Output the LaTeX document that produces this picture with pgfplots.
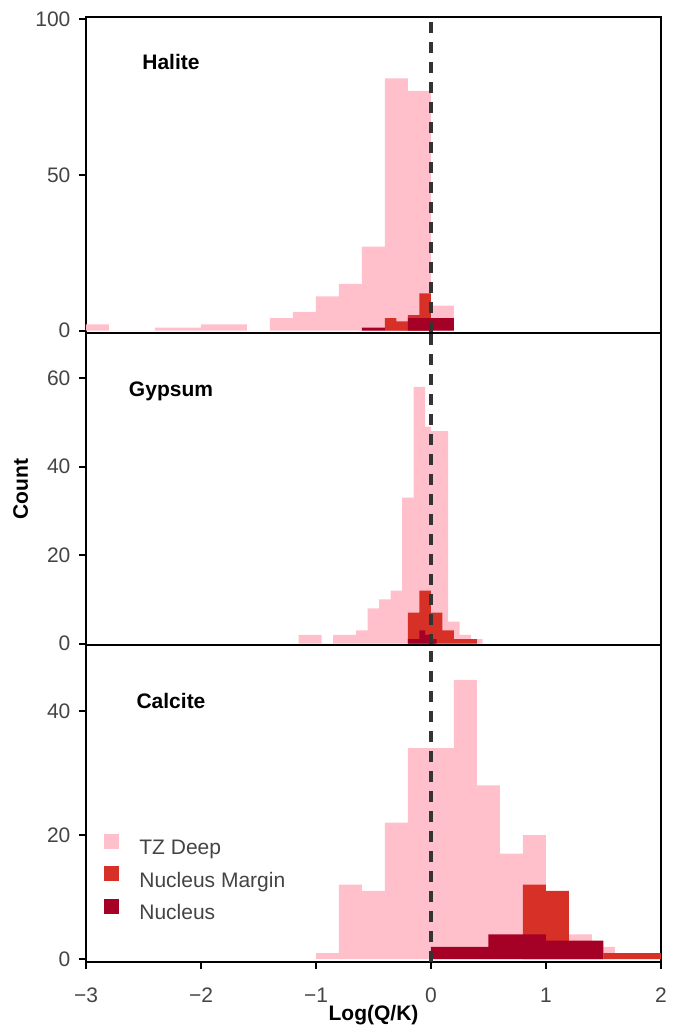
\documentclass[border=0pt]{standalone}
\usepackage{fontspec}
\setmainfont{Liberation Sans}
\usepackage{pgfplots}
\usepackage{pgfplotstable}
\pgfplotsset{compat=1.18}

\definecolor{tzdeep}{HTML}{FFC0CB}
\definecolor{margin}{HTML}{D73027}
\definecolor{nucleus}{HTML}{A50026}
\definecolor{ticktext}{HTML}{444444}
\definecolor{refline}{HTML}{333333}

% left bin edge, count (last row closes the last bin)
\pgfplotstableread{
x y
-3.0 2
-2.8 0
-2.4 1
-2.2 1
-2.0 2
-1.8 2
-1.6 0
-1.4 4
-1.2 6
-1.0 11
-0.8 15
-0.6 27
-0.4 81
-0.2 77
0.0 8
0.2 0
}\halitedeep
\pgfplotstableread{
x y
-0.4 4
-0.3 3
-0.2 5
-0.1 12
0.0 0
}\halitemargin
\pgfplotstableread{
x y
-0.6 1
-0.4 0
-0.2 4
0.2 0
}\halitenucleus

\pgfplotstableread{
x y
-1.15 2
-1.05 2
-0.95 0
-0.85 2
-0.75 2
-0.65 3
-0.55 8
-0.45 10
-0.35 12
-0.25 33
-0.15 58
-0.05 49
0.0 48
0.15 5
0.25 2
0.35 1
0.45 0
}\gypsumdeep
\pgfplotstableread{
x y
-0.2 7
-0.1 12
0.0 7
0.1 3
0.2 1
0.4 0
}\gypsummargin
\pgfplotstableread{
x y
-0.2 1
-0.1 3
-0.05 2
0.0 1
0.05 0
}\gypsumnucleus

\pgfplotstableread{
x y
-1.0 1
-0.8 12
-0.6 11
-0.4 22
-0.2 34
0.0 34
0.2 45
0.4 28
0.6 17
0.8 20
1.0 8
1.2 4
1.4 2
1.6 0
}\calcitedeep
\pgfplotstableread{
x y
0.8 12
1.0 11
1.2 0
1.5 1
2.0 0
}\calcitemargin
\pgfplotstableread{
x y
0.0 2
0.5 4
1.0 3
1.5 0
}\calcitenucleus

\pgfplotsset{
  panel/.style={
    scale only axis, width=287.5pt,
    xmin=-3, xmax=2,
    axis line style={line width=1pt},
    tick style={black, line width=1pt},
    tick align=outside,
    ytick pos=left, xtick pos=bottom,
    major tick length=3.5pt,
    ticklabel style={font=\fontsize{10.5}{12}\selectfont, text=ticktext},
    yticklabel style={inner sep=0pt, xshift=-4.1pt},
    xticklabel style={inner sep=0pt, yshift=-9.25pt},
    /pgf/number format/assume math mode=true,
    label style={font=\bfseries\fontsize{10.5}{12}\selectfont},
  },
  bin/.style={ybar interval, fill=#1, draw=none,
    legend image code/.code={\fill[#1] (0pt,-0.2pt) rectangle (7.5pt,7.3pt);}},
  zero/.style={refline, line width=1.6pt, dash pattern=on 5.5pt off 4.5pt, forget plot},
}

\begin{document}
\begin{tikzpicture}
\path[use as bounding box] (-43pt,-34.15pt) rectangle (298pt,480.85pt);

\begin{axis}[panel, name=top, at={(0,314.2pt)}, anchor=south west,
  height=158pt, ymin=-0.85, ymax=100.6, ytick={0,50,100}, xtick=\empty]
\addplot[bin=tzdeep] table {\halitedeep};
\addplot[bin=margin] table {\halitemargin};
\addplot[bin=nucleus] table {\halitenucleus};
\addplot[zero] coordinates {(0,-0.85) (0,100.6)};
\end{axis}

\begin{axis}[panel, name=mid, at={(0,158.35pt)}, anchor=south west,
  height=155.85pt, ymin=-0.3, ymax=70.1, ytick={0,20,40,60}, xtick=\empty,
  ylabel={Count},
  ylabel style={at={(axis description cs:-0.1137,0.5)}, anchor=center, rotate=0}]
\addplot[bin=tzdeep] table {\gypsumdeep};
\addplot[bin=margin] table {\gypsummargin};
\addplot[bin=nucleus] table {\gypsumnucleus};
\addplot[zero] coordinates {(0,-0.3) (0,70.1)};
\end{axis}

\begin{axis}[panel, name=bot, at={(0,0)}, anchor=south west,
  height=158.35pt, ymin=-0.4, ymax=50.6, ytick={0,20,40},
  xtick={-3,-2,-1,0,1,2}, xticklabels={−3,−2,−1,0,1,2},
  xlabel={Log(Q/K)},
  xlabel style={at={(axis description cs:0.5,0)}, anchor=center, yshift=-26.5pt},
  legend cell align=left,
  legend style={draw=none, fill=none, at={(0.0313,0.262)}, anchor=west,
    inner sep=0pt, row sep=4pt, text=ticktext,
    font=\fontsize{10.5}{12}\selectfont,
    nodes={inner sep=0pt, text height=8pt, text depth=2pt},
    /tikz/every odd column/.append style={column sep=10pt}}]
\addplot[bin=tzdeep] table {\calcitedeep};
\addlegendentry{TZ Deep}
\addplot[bin=margin] table {\calcitemargin};
\addlegendentry{Nucleus Margin}
\addplot[bin=nucleus] table {\calcitenucleus};
\addlegendentry{Nucleus}
\addplot[zero] coordinates {(0,-0.4) (0,50.6)};
\end{axis}

\node[font=\bfseries\fontsize{10.5}{12}\selectfont] at (42.5pt,449.8pt) {Halite};
\node[font=\bfseries\fontsize{10.5}{12}\selectfont] at (42.5pt,285.2pt) {Gypsum};
\node[font=\bfseries\fontsize{10.5}{12}\selectfont] at (42.5pt,130.35pt) {Calcite};
\end{tikzpicture}
\end{document}
